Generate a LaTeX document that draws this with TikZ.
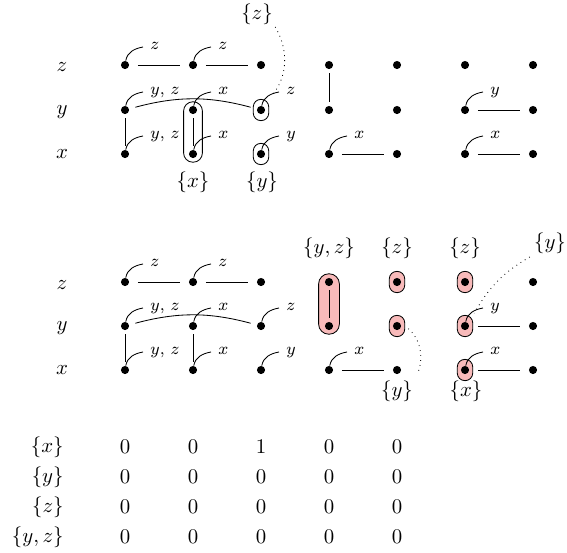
\documentclass[tikz,border=0pt]{standalone}
\usetikzlibrary{calc}
\usetikzlibrary{backgrounds}
\definecolor{capfill}{RGB}{248,186,186}
\tikzset{
 dot/.style={circle, fill=black, inner sep=0pt, minimum size=3.9pt},
 hlink/.style={shorten <=4pt, shorten >=4pt},
 vlink/.style={shorten <=1.8pt, shorten >=1.8pt},
 bow/.style={shorten <=3pt, shorten >=3pt},
 plab/.style={anchor=base west, inner sep=0pt, font=\footnotesize},
 setlab/.style={inner sep=1pt},
 capsule/.style={draw, rectangle, inner sep=0pt, rounded corners=3.6pt, minimum width=7.4pt, minimum height=10.2pt},
 bigcap/.style={capsule, rounded corners=4.4pt, minimum width=9pt, minimum height=29pt},
 pinkcap/.style={fill=capfill},
}

\begin{document}
\begin{tikzpicture}[x=0.48pt, y=-0.48pt]
\useasboundingbox (0,0) rectangle (567,552);
% dots, upper and lower block
\foreach \c in {1,...,7} {
 \foreach \r/\y in {1/65,2/110,3/154}
  \node[dot] (t\c\r) at ({125+68*(\c-1)},\y) {};
 \foreach \r/\y in {1/282,2/326,3/370}
  \node[dot] (b\c\r) at ({125+68*(\c-1)},\y) {};
}
\foreach \r/\l/\y/\yy in {1/z/67/285, 2/y/112/328, 3/x/154/370} {
 \node (lt\r) at (62,\y) {$\l$};
 \node (lb\r) at (62,\yy) {$\l$};
}
% capsules
\begin{scope}[on background layer]
\node[bigcap] (ct22) at ($(t22)!.5!(t23)$) {};
\node[capsule] (ct32) at (t32) {};
\node[capsule] (ct33) at (t33) {};
\node[bigcap, pinkcap, rounded corners=4.9pt, minimum width=10pt] (cb41) at ($(b41)!.5!(b42)$) {};
\foreach \d in {b51,b52,b61,b62,b63}
 \node[capsule, pinkcap] (c\d) at (\d) {};
\end{scope}
% edges
\foreach \p in {t,b} {
 \draw[hlink] (\p11) -- (\p21);
 \draw[hlink] (\p21) -- (\p31);
 \draw[bow] (\p12) to[out=15, in=165] (\p32);
 \draw[vlink] (\p12) -- (\p13);
 \draw[vlink] (\p22) -- (\p23);
 \draw[hlink] (\p43) -- (\p53);
 \draw[hlink] (\p63) -- (\p73);
 \draw[hlink] (\p62) -- (\p72);
}
\draw[vlink] (t41) -- (t42);
\draw[vlink] (b41) -- (b42);
% labels on the dots
\foreach \d/\t in {t11/$z$, t21/$z$, t12/{$y$, $z$}, t22/$x$, t32/$z$, t13/{$y$, $z$}, t23/$x$, t33/$y$, t43/$x$, t62/$y$, t63/$x$,
                   b11/$z$, b21/$z$, b12/{$y$, $z$}, b22/$x$, b32/$z$, b13/{$y$, $z$}, b23/$x$, b33/$y$, b43/$x$, b62/$y$, b63/$x$} {
 \node[plab] (p\d) at ([shift={(25,-16)}]\d.center) {\t};
 \draw (\d) to[out=80, in=190] ([shift={(-7,-2)}]p\d.base west);
}
% sets
\node[setlab] (sz) at (257,14) {$\{z\}$};
\node[setlab] (sx) at (193,182) {$\{x\}$};
\node[setlab] (sy) at (262,182) {$\{y\}$};
\draw[dotted, shorten >=2pt] (sz.south east) to[out=-60, in=50] (ct32.north east);
\node[setlab] (syz4) at (329,248) {$\{y,z\}$};
\node[setlab] (sz5) at (397,248) {$\{z\}$};
\node[setlab] (sz6) at (465,248) {$\{z\}$};
\node[setlab] (sy7) at (550,243) {$\{y\}$};
\node[setlab] (sy5) at (397,391) {$\{y\}$};
\node[setlab] (sx6) at (466,391) {$\{x\}$};
\draw[dotted, shorten <=2pt, shorten >=2pt] (cb52.east) to[out=-40, in=65] (sy5.north east);
\draw[dotted, shorten <=1pt, shorten >=1pt] (sy7.south west) to[out=210, in=60] (cb62.north east);
% table
\foreach \r/\s/\y/\vals in {1/x/447/{0,0,1,0,0}, 2/y/477/{0,0,0,0,0}, 3/z/507/{0,0,0,0,0}, 4/{y,z}/537/{0,0,0,0,0}} {
 \node[anchor=east, inner sep=0pt] (s\r) at (64,\y) {$\{\s\}$};
 \foreach \v [count=\c] in \vals
  \node (v\r\c) at ({125+68*(\c-1)},\y) {$\v$};
}
\end{tikzpicture}
\end{document}
